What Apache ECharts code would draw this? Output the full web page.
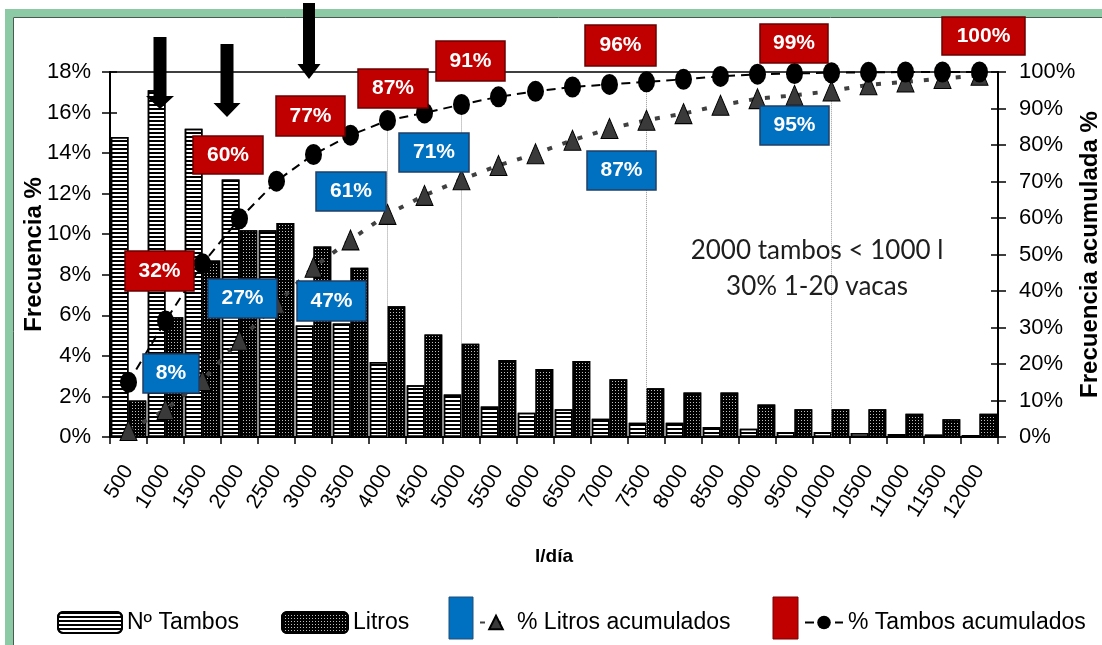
<!DOCTYPE html>
<html>
<head>
<meta charset="utf-8">
<script src="https://cdn.jsdelivr.net/npm/echarts@6/dist/echarts.min.js"></script>
<style>
html,body{margin:0;padding:0;background:#fff;}
#chart{width:1102px;height:645px;}
</style>
</head>
<body>
<div id="chart"></div>
<script>
// ---- data ----
const categories = ['500','1000','1500','2000','2500','3000','3500','4000','4500','5000','5500','6000','6500','7000','7500','8000','8500','9000','9500','10000','10500','11000','11500','12000'];
const tambosPct = [14.8, 17.1, 15.2, 12.7, 10.2, 5.5, 5.6, 3.7, 2.55, 2.1, 1.5, 1.2, 1.37, 0.9, 0.7, 0.7, 0.49, 0.41, 0.25, 0.25, 0.2, 0.15, 0.12, 0.1];
const litrosPct = [1.8, 5.9, 8.7, 10.2, 10.55, 9.4, 8.35, 6.45, 5.05, 4.6, 3.8, 3.35, 3.75, 2.85, 2.4, 2.2, 2.2, 1.6, 1.37, 1.37, 1.37, 1.15, 0.87, 1.15];
const litrosCum = [1.8, 7.5, 15.5, 26.5, 36.5, 46.5, 54, 61, 66.2, 70.5, 74.4, 77.6, 81.3, 84.5, 86.8, 88.6, 90.9, 92.7, 93.6, 94.8, 96.5, 97.3, 98.2, 99.1];
const tambosCum = [15, 31.8, 47.5, 59.8, 70.1, 77.4, 82.7, 86.7, 88.8, 91.1, 93.2, 94.7, 95.9, 96.6, 97.3, 98, 98.8, 99.4, 99.6, 99.8, 99.9, 100, 100, 100];
const dropIdx = [7, 9, 14, 19];
const leftTicks = {min: 0, max: 18, interval: 2};
const rightTicks = {min: 0, max: 100, interval: 10};
const seriesNames = ['Nº Tambos', 'Litros', '% Litros acumulados', '% Tambos acumulados'];
const redNotes = ['32%', '60%', '77%', '87%', '91%', '96%', '99%', '100%'];
const blueNotes = ['8%', '27%', '47%', '61%', '71%', '87%', '95%'];
const noteLines = ['2000 tambos < 1000 l', '30% 1-20 vacas'];

// ---- styling / layout ----
const SANS = '"Liberation Sans",Arial,sans-serif';
const RED = '#c00000', BLUE = '#0070c0';

const redPos = [[125,251,69,40],[193,136,70,38],[276,96,69,40],[358,69,70,39],[436,41,69,40],[585,25,71,41],[760,24,68,39],[942,17,83,38]];
const bluePos = [[143,354,56,39],[208,279,69,39],[297,281,69,40],[316,172,70,39],[399,133,70,39],[587,151,69,39],[760,106,69,39]];

function box(pos, txt, fill, stroke) {
  return {
    type: 'group', z: 200,
    children: [
      {type: 'rect', z: 200, shape: {x: pos[0], y: pos[1], width: pos[2], height: pos[3]},
       style: {fill: fill, stroke: stroke, lineWidth: 1.5}},
      {type: 'text', z: 201, style: {text: txt, x: pos[0] + pos[2] / 2, y: pos[1] + pos[3] / 2,
       textAlign: 'center', textVerticalAlign: 'middle', fill: '#fff', font: 'bold 21px ' + SANS}}
    ]
  };
}
function arrow(cx, top, headTop, tip, shaftHalf, headHalf) {
  return {type: 'polygon', z: 190,
    shape: {points: [[cx - shaftHalf, top], [cx + shaftHalf, top], [cx + shaftHalf, headTop], [cx + headHalf, headTop], [cx, tip], [cx - headHalf, headTop], [cx - shaftHalf, headTop]]},
    style: {fill: '#000'}};
}

const graphics = [
  {type: 'rect', z: 0, shape: {x: 9, y: 13, width: 1200, height: 700}, style: {fill: 'none', stroke: '#8ccaa6', lineWidth: 8}},
  {type: 'rect', z: 0, shape: {x: 13.5, y: 17.5, width: 1200, height: 700}, style: {fill: 'none', stroke: '#4a5a50', lineWidth: 1}},
  arrow(160, 37, 96, 109, 6.5, 14),
  arrow(227, 44, 103, 117, 6.5, 13.5),
  arrow(309, 3, 64, 79, 6, 11.5),
  {type: 'text', z: 150, style: {text: noteLines[0], x: 817, y: 251, textAlign: 'center', textVerticalAlign: 'middle', fill: '#1e1e1e', font: '26px Lato, "Open Sans", sans-serif'}},
  {type: 'text', z: 150, style: {text: noteLines[1], x: 817, y: 287, textAlign: 'center', textVerticalAlign: 'middle', fill: '#1e1e1e', font: '26px Lato, "Open Sans", sans-serif'}},
  {type: 'rect', z: 150, shape: {x: 449, y: 597, width: 24, height: 42}, style: {fill: BLUE, stroke: '#1f4e79', lineWidth: 1}},
  {type: 'rect', z: 150, shape: {x: 773, y: 597, width: 25, height: 42}, style: {fill: RED, stroke: '#7a0000', lineWidth: 1}}
];
redNotes.forEach((t, i) => graphics.push(box(redPos[i], t, RED, '#6b0000')));
blueNotes.forEach((t, i) => graphics.push(box(bluePos[i], t, BLUE, '#1f3f66')));

const chart = echarts.init(document.getElementById('chart'), null, {renderer: 'canvas'});
const legendText = {fontFamily: SANS, fontSize: 23, color: '#000'};
const pctFmt = v => v + '%';

chart.setOption({
  animation: false,
  backgroundColor: '#fff',
  graphic: graphics,
  grid: {left: 110, right: 104, top: 72, bottom: 208, show: true, borderColor: '#000', borderWidth: 1.5,
         backgroundColor: 'transparent', containLabel: false, outerBoundsMode: 'none'},
  legend: [
    {data: [seriesNames[0]], left: 52, top: 606, itemWidth: 64, itemHeight: 21, itemGap: 0, textStyle: legendText},
    {data: [seriesNames[1]], left: 276, top: 606, itemWidth: 66, itemHeight: 21, itemGap: 0, textStyle: legendText},
    {data: [seriesNames[2]], left: 474, top: 606, itemWidth: 32, itemHeight: 17, itemGap: 0, textStyle: legendText},
    {data: [seriesNames[3]], left: 799, top: 606, itemWidth: 38, itemHeight: 17, itemGap: 0, textStyle: legendText}
  ],
  xAxis: {
    type: 'category', data: categories, boundaryGap: true,
    axisLine: {lineStyle: {color: '#000', width: 2}},
    axisTick: {show: true, length: 7, lineStyle: {color: '#000', width: 1.5}},
    axisLabel: {interval: 0, rotate: 58, fontFamily: SANS, fontSize: 21, color: '#000', margin: 30},
    name: 'l/día', nameLocation: 'middle', nameGap: 110, nameMoveOverlap: false,
    nameTextStyle: {fontFamily: SANS, fontWeight: 'bold', fontSize: 19, color: '#000'}
  },
  yAxis: [
    {type: 'value', position: 'left', min: leftTicks.min, max: leftTicks.max, interval: leftTicks.interval,
     axisLine: {show: true, lineStyle: {color: '#000', width: 2}},
     axisTick: {show: true, length: 8, lineStyle: {color: '#000', width: 1.5}},
     axisLabel: {formatter: pctFmt, fontFamily: SANS, fontSize: 22, color: '#000', margin: 19},
     splitLine: {show: false},
     name: 'Frecuencia %', nameLocation: 'middle', nameGap: 64, nameRotate: 90, nameMoveOverlap: false,
     nameTextStyle: {fontFamily: SANS, fontWeight: 'bold', fontSize: 24, color: '#000'}},
    {type: 'value', position: 'right', min: rightTicks.min, max: rightTicks.max, interval: rightTicks.interval,
     axisLine: {show: true, lineStyle: {color: '#000', width: 2}},
     axisTick: {show: true, length: 8, lineStyle: {color: '#000', width: 1.5}},
     axisLabel: {formatter: pctFmt, fontFamily: SANS, fontSize: 22, color: '#000', margin: 21},
     splitLine: {show: false},
     name: 'Frecuencia acumulada %', nameLocation: 'middle', nameGap: 80, nameRotate: 90, nameMoveOverlap: false,
     nameTextStyle: {fontFamily: SANS, fontWeight: 'bold', fontSize: 24, color: '#000'}},
    {type: 'value', position: 'left', min: leftTicks.min, max: leftTicks.max, interval: leftTicks.interval,
     axisLine: {show: false}, axisLabel: {show: false}, splitLine: {show: false},
     axisTick: {show: true, inside: true, length: 7, lineStyle: {color: '#000', width: 1.5}}},
    {type: 'value', position: 'right', min: rightTicks.min, max: rightTicks.max, interval: rightTicks.interval,
     axisLine: {show: false}, axisLabel: {show: false}, splitLine: {show: false},
     axisTick: {show: true, inside: true, length: 7, lineStyle: {color: '#000', width: 1.5}}}
  ],
  series: [
    {name: seriesNames[0], type: 'bar', yAxisIndex: 0, data: tambosPct, barGap: '0%', barCategoryGap: '4%', z: 2,
     itemStyle: {color: '#fff', borderColor: '#000', borderWidth: 1.5,
       decal: {color: '#000', symbol: 'rect', symbolSize: 1, dashArrayX: [1, 0], dashArrayY: [2, 2], rotation: 0}}},
    {name: seriesNames[1], type: 'bar', yAxisIndex: 0, data: litrosPct, z: 2,
     itemStyle: {color: '#000', borderColor: '#000', borderWidth: 1.5,
       decal: {color: 'rgba(255,255,255,0.75)', symbol: 'rect', symbolSize: 1, dashArrayX: [1, 2], dashArrayY: [1, 2], rotation: 0}}},
    {name: seriesNames[2], type: 'line', yAxisIndex: 1, data: litrosCum, z: 5,
     symbol: 'triangle', symbolSize: [17, 20],
     lineStyle: {color: '#404040', width: 4, type: [5, 11]},
     itemStyle: {color: '#3a3a3a', borderColor: '#000', borderWidth: 1}},
    {name: seriesNames[3], type: 'line', yAxisIndex: 1, data: tambosCum, z: 6,
     symbol: 'circle', symbolSize: [17, 21],
     lineStyle: {color: '#000', width: 2, type: [9, 6]},
     itemStyle: {color: '#000'},
     markLine: {silent: true, symbol: 'none', label: {show: false},
       lineStyle: {color: '#999', type: 'dotted', width: 1},
       data: dropIdx.map(i => [{coord: [categories[i], tambosCum[i]]}, {coord: [categories[i], 0]}])}}
  ]
});
</script>
</body>
</html>
